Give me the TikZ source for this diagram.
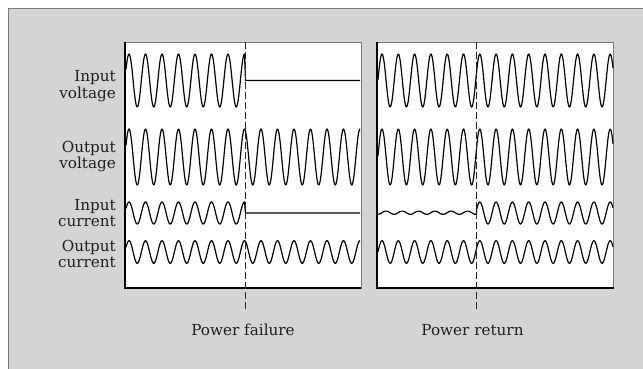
\documentclass[tikz,border=0pt]{standalone}
\usepackage{fontspec}
\setmainfont{DejaVu Serif}
\definecolor{bggray}{RGB}{211,212,214}
\definecolor{framegray}{RGB}{120,120,120}
\definecolor{txtgray}{RGB}{30,30,30}
\begin{document}
\begin{tikzpicture}[x=1pt,y=-1pt,
  wave/.style={line width=1.2pt,black,line join=round},
  panelbox/.style={fill=white,draw=framegray,line width=0.8pt},
  thickedge/.style={line width=2.4pt,black},
  eventline/.style={line width=1.2pt,black!85,dash pattern=on 6.5pt off 3.5pt},
  rowlabel/.style={anchor=east,align=right,inner sep=0pt,text=txtgray,font=\fontsize{15.2}{16.8}\selectfont},
  eventlabel/.style={anchor=base,inner sep=0pt,text=txtgray,font=\fontsize{15.2}{16.8}\selectfont}]
\useasboundingbox (0,0) rectangle (643,368);
% outer frame
\fill[white] (0,0) rectangle (643,368);
\draw[fill=bggray,draw=framegray,line width=0.8pt] (8.5,8.5) rectangle (660,380);
% panels
\draw[panelbox] (125,42) rectangle (361,288);
\draw[panelbox] (377,42) rectangle (613.5,288);
\draw[thickedge] (125,42) -- (125,288) -- (361,288);
\draw[thickedge] (377,42) -- (377,288) -- (613.5,288);
% event coordinates
\coordinate (fTop) at (245.7,42);
\coordinate (fBot) at (245.7,311);
\coordinate (rTop) at (476.5,42);
\coordinate (rBot) at (476.5,311);
% ---- left panel (power failure) ----
% input voltage
\draw[wave] plot[domain=126:244.5,samples=220,smooth] (\x,{80.5-26.5*cos(21.8182*(\x-129))})
  -- (245.5,80.5) -- (360,80.5);
% output voltage
\draw[wave] plot[domain=126:360,samples=400,smooth] (\x,{157-28*cos(21.8182*(\x-129))});
% input current
\draw[wave] plot[domain=126:244.5,samples=220,smooth] (\x,{213-11*cos(21.8182*(\x-129))})
  -- (245.5,213) -- (360,213);
% output current
\draw[wave] plot[domain=126:360,samples=400,smooth] (\x,{252-11.3*cos(21.8182*(\x-129))});
% ---- right panel (power return) ----
\draw[wave] plot[domain=378:613,samples=400,smooth] (\x,{80.5-26.5*cos(22.0859*(\x-382))});
\draw[wave] plot[domain=378:613,samples=400,smooth] (\x,{157-28*cos(22.0859*(\x-382))});
\draw[wave] plot[domain=378:476.5,samples=200,smooth] (\x,{212.7-1.6*cos(22.0859*(\x-386))})
  -- plot[domain=476.5:613,samples=300,smooth] (\x,{213-11*cos(22.0859*(\x-382))});
\draw[wave] plot[domain=378:613,samples=400,smooth] (\x,{252-11.3*cos(22.0859*(\x-382))});
% event lines
\draw[eventline] (fTop) -- (fBot);
\draw[eventline] (rTop) -- (rBot);
% labels
\node[rowlabel] (lIV) at (116,86) {Input\\voltage};
\node[rowlabel] (lOV) at (116,156.5) {Output\\voltage};
\node[rowlabel] (lIC) at (116,213) {Input\\current};
\node[rowlabel] (lOC) at (116,254) {Output\\current};
\node[eventlabel] (lPF) at (243,335) {Power failure};
\node[eventlabel] (lPR) at (472.5,335) {Power return};
\end{tikzpicture}
\end{document}
